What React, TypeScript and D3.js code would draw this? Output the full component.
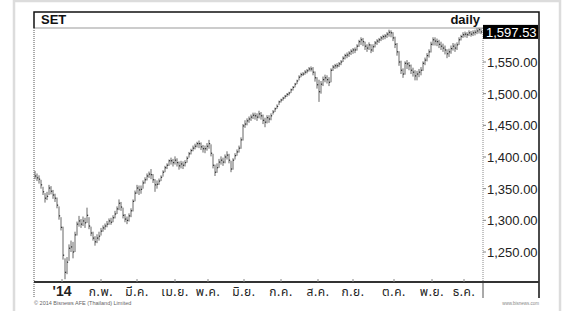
import React, { useEffect, useRef } from "react";
import * as d3 from "d3";

// daily bars: [high, low, close]
const bars: [number, number, number][] = [
  [1378, 1365, 1370], [1374, 1362, 1367], [1371, 1358, 1365], [1364, 1350, 1356],
  [1353, 1340, 1345], [1343, 1328, 1335], [1345, 1332, 1338], [1356, 1340, 1351],
  [1354, 1341, 1346], [1348, 1334, 1340], [1342, 1329, 1335], [1336, 1319, 1324],
  [1322, 1301, 1307], [1305, 1284, 1289], [1290, 1238, 1245], [1240, 1207, 1218],
  [1242, 1215, 1234], [1262, 1236, 1256], [1268, 1250, 1258], [1266, 1240, 1250],
  [1282, 1250, 1277], [1298, 1276, 1294], [1307, 1290, 1299], [1302, 1288, 1294],
  [1306, 1291, 1299], [1304, 1288, 1296], [1320, 1296, 1308], [1305, 1286, 1291],
  [1290, 1275, 1280], [1282, 1268, 1272], [1275, 1260, 1266], [1278, 1264, 1272],
  [1282, 1268, 1275], [1288, 1276, 1283], [1292, 1282, 1288], [1295, 1285, 1291],
  [1299, 1289, 1294], [1303, 1293, 1299], [1304, 1293, 1297], [1308, 1297, 1304],
  [1315, 1303, 1310], [1322, 1310, 1318], [1333, 1316, 1327], [1329, 1315, 1321],
  [1320, 1303, 1308], [1310, 1297, 1302], [1306, 1294, 1300], [1311, 1298, 1307],
  [1319, 1305, 1315], [1333, 1314, 1330], [1347, 1330, 1343], [1356, 1342, 1351],
  [1355, 1340, 1348], [1355, 1342, 1349], [1363, 1350, 1359], [1368, 1358, 1364],
  [1374, 1363, 1370], [1377, 1367, 1373], [1381, 1365, 1372], [1373, 1359, 1364],
  [1365, 1345, 1356], [1363, 1350, 1357], [1366, 1356, 1362], [1371, 1362, 1368],
  [1379, 1369, 1376], [1386, 1376, 1383], [1390, 1381, 1387], [1396, 1386, 1394],
  [1399, 1388, 1394], [1397, 1385, 1391], [1401, 1388, 1395], [1398, 1385, 1391],
  [1393, 1380, 1386], [1394, 1382, 1389], [1393, 1381, 1387], [1395, 1385, 1391],
  [1401, 1391, 1398], [1408, 1399, 1405], [1413, 1404, 1410], [1418, 1409, 1414],
  [1421, 1412, 1417], [1424, 1415, 1421], [1426, 1414, 1421], [1423, 1411, 1416],
  [1419, 1407, 1413], [1418, 1406, 1413], [1422, 1410, 1417], [1427, 1413, 1421],
  [1420, 1401, 1406], [1405, 1382, 1387], [1388, 1370, 1376], [1390, 1375, 1383],
  [1397, 1383, 1392], [1401, 1388, 1395], [1399, 1386, 1392], [1404, 1390, 1400],
  [1409, 1396, 1403], [1405, 1390, 1395], [1394, 1376, 1381], [1398, 1380, 1395],
  [1406, 1396, 1402], [1412, 1402, 1408], [1418, 1407, 1414], [1431, 1413, 1427],
  [1452, 1426, 1449], [1458, 1446, 1452], [1461, 1450, 1457], [1464, 1454, 1460],
  [1467, 1457, 1463], [1470, 1460, 1466], [1470, 1459, 1465], [1469, 1457, 1463],
  [1473, 1461, 1468], [1471, 1459, 1465], [1467, 1452, 1458], [1462, 1447, 1455],
  [1466, 1453, 1462], [1466, 1454, 1460], [1469, 1458, 1465], [1474, 1467, 1471],
  [1478, 1471, 1476], [1483, 1476, 1480], [1489, 1482, 1487], [1492, 1486, 1490],
  [1495, 1489, 1493], [1498, 1492, 1496], [1501, 1495, 1499], [1503, 1497, 1501],
  [1508, 1501, 1506], [1512, 1505, 1510], [1517, 1510, 1515], [1522, 1515, 1520],
  [1529, 1521, 1526], [1533, 1526, 1530], [1534, 1528, 1531], [1537, 1530, 1534],
  [1539, 1532, 1536], [1542, 1535, 1539], [1543, 1535, 1539], [1542, 1529, 1534],
  [1535, 1519, 1525], [1526, 1508, 1514], [1522, 1487, 1503], [1520, 1500, 1515],
  [1527, 1512, 1522], [1530, 1518, 1525], [1529, 1516, 1522], [1526, 1512, 1518],
  [1540, 1518, 1537], [1545, 1536, 1542], [1547, 1539, 1544], [1548, 1540, 1544],
  [1550, 1542, 1547], [1553, 1545, 1550], [1559, 1550, 1556], [1563, 1554, 1560],
  [1565, 1556, 1561], [1567, 1558, 1564], [1570, 1561, 1567], [1572, 1563, 1569],
  [1573, 1564, 1569], [1578, 1568, 1575], [1585, 1574, 1582], [1589, 1577, 1585],
  [1588, 1575, 1582], [1582, 1569, 1575], [1578, 1566, 1572], [1581, 1569, 1577],
  [1578, 1564, 1569], [1578, 1566, 1574], [1583, 1573, 1580], [1586, 1577, 1583],
  [1588, 1580, 1585], [1591, 1583, 1588], [1593, 1585, 1590], [1594, 1586, 1591],
  [1597, 1588, 1594], [1601, 1590, 1597], [1600, 1589, 1596], [1597, 1583, 1588],
  [1590, 1572, 1578], [1580, 1560, 1566], [1567, 1544, 1550], [1552, 1531, 1537],
  [1540, 1525, 1531], [1551, 1530, 1548], [1553, 1539, 1547], [1550, 1537, 1544],
  [1546, 1531, 1537], [1541, 1527, 1534], [1537, 1521, 1528], [1536, 1521, 1531],
  [1539, 1526, 1534], [1542, 1529, 1537], [1551, 1536, 1548], [1557, 1545, 1553],
  [1564, 1551, 1560], [1570, 1557, 1566], [1582, 1565, 1578], [1589, 1576, 1585],
  [1589, 1576, 1583], [1587, 1575, 1582], [1585, 1572, 1578], [1582, 1569, 1575],
  [1579, 1566, 1572], [1576, 1562, 1569], [1570, 1556, 1563], [1571, 1558, 1566],
  [1576, 1563, 1571], [1580, 1568, 1575], [1579, 1566, 1572], [1581, 1569, 1577],
  [1589, 1577, 1585], [1593, 1584, 1590], [1597, 1588, 1593], [1598, 1589, 1594],
  [1597, 1588, 1593], [1600, 1591, 1596], [1599, 1590, 1594], [1600, 1591, 1596],
  [1601, 1592, 1597], [1603, 1594, 1599], [1604, 1595, 1601], [1603, 1594, 1597.53],
];

const monthLabels = ["'14", "ก.พ.", "มี.ค.", "เม.ย.", "พ.ค.", "มิ.ย.", "ก.ค.", "ส.ค.", "ก.ย.", "ต.ค.", "พ.ย.", "ธ.ค."];
// bar index where each month label sits
const monthAt = [13.5, 33, 51, 70, 86.5, 104.5, 123, 141.5, 159, 179.5, 198.5, 214.5];
const priceTicks = [1250, 1300, 1350, 1400, 1450, 1500, 1550];
const lastClose = 1597.53;

const App = () => {
  const ref = useRef<SVGSVGElement>(null);

  useEffect(() => {
    const svg = d3.select(ref.current);
    svg.selectAll("*").remove();

    const left = 34, right = 539, top = 12, head = 28, axisY = 282, bottom = 298;
    const plotRight = 483;
    const font = "'Liberation Sans', Arial, sans-serif";
    const thai = "Tahoma, 'Noto Sans Thai', 'DejaVu Sans', 'Liberation Sans', sans-serif";

    const x = d3.scaleLinear().domain([-0.5, bars.length]).range([left, plotRight]);
    const y = d3.scaleLinear().domain([1250, 1550]).range([252, 62]);

    // outer panel
    svg.append("rect")
      .attr("x", 14).attr("y", 1).attr("width", 546).attr("height", 330)
      .attr("fill", "#fff").attr("stroke", "#dcdcdc").attr("stroke-width", 2.5);

    // header
    svg.append("text").attr("x", 41).attr("y", 24)
      .attr("font-family", font).attr("font-size", 13).attr("font-weight", "bold")
      .attr("fill", "#111").text("SET");
    svg.append("text").attr("x", 480).attr("y", 24).attr("text-anchor", "end")
      .attr("font-family", font).attr("font-size", 13).attr("font-weight", "bold")
      .attr("fill", "#111").text("daily");
    svg.append("line").attr("x1", left).attr("x2", right).attr("y1", head).attr("y2", head)
      .attr("stroke", "#bbb").attr("stroke-width", 1.5);

    // frame
    svg.append("path")
      .attr("d", `M${left},${head} V${top} H${right} V${bottom}`)
      .attr("fill", "none").attr("stroke", "#111").attr("stroke-width", 1.5);
    svg.append("line").attr("x1", left).attr("x2", left).attr("y1", head).attr("y2", bottom)
      .attr("stroke", "#555").attr("stroke-width", 1).attr("stroke-dasharray", "1,1");
    svg.append("line").attr("x1", plotRight).attr("x2", plotRight).attr("y1", head).attr("y2", axisY)
      .attr("stroke", "#888").attr("stroke-width", 1).attr("stroke-dasharray", "1,1");
    svg.append("line").attr("x1", plotRight).attr("x2", plotRight).attr("y1", axisY).attr("y2", bottom)
      .attr("stroke", "#555").attr("stroke-width", 1);
    svg.append("line").attr("x1", left).attr("x2", right).attr("y1", axisY).attr("y2", axisY)
      .attr("stroke", "#333").attr("stroke-width", 2);

    // price axis
    const yAxis = svg.append("g");
    priceTicks.forEach(t => {
      yAxis.append("line").attr("x1", plotRight).attr("x2", plotRight + 3)
        .attr("y1", y(t)).attr("y2", y(t)).attr("stroke", "#888");
      yAxis.append("text").attr("x", 487).attr("y", y(t) + 5)
        .attr("font-family", font).attr("font-size", 13).attr("fill", "#222")
        .text(d3.format(",.2f")(t));
    });

    // month axis
    const xAxis = svg.append("g");
    monthLabels.forEach((m, i) => {
      const px = x(monthAt[i]);
      xAxis.append("line").attr("x1", px).attr("x2", px).attr("y1", axisY - 3).attr("y2", axisY)
        .attr("stroke", "#888");
      xAxis.append("text").attr("x", px).attr("y", 296).attr("text-anchor", "middle")
        .attr("font-family", i === 0 ? font : thai)
        .attr("font-size", i === 0 ? 14 : 12)
        .attr("font-weight", i === 0 ? "bold" : "normal")
        .attr("letter-spacing", i === 0 ? 0 : 0.6)
        .attr("fill", "#222").text(m);
    });

    // bars
    const g = svg.append("g");
    g.selectAll("line.hl").data(bars).join("line").attr("class", "hl")
      .attr("x1", (d, i) => x(i)).attr("x2", (d, i) => x(i))
      .attr("y1", d => y(d[0])).attr("y2", d => y(d[1]))
      .attr("stroke", "#555").attr("stroke-width", 0.9);
    g.selectAll("line.cl").data(bars).join("line").attr("class", "cl")
      .attr("x1", (d, i) => x(i)).attr("x2", (d, i) => x(i) + 1.2)
      .attr("y1", d => y(d[2])).attr("y2", d => y(d[2]))
      .attr("stroke", "#111").attr("stroke-width", 1);

    // last price tag
    const ly = y(lastClose);
    svg.append("rect").attr("x", plotRight).attr("y", ly - 7).attr("width", 55).attr("height", 14)
      .attr("fill", "#000");
    svg.append("text").attr("x", 486).attr("y", ly + 5)
      .attr("font-family", font).attr("font-size", 13).attr("fill", "#fff")
      .text(d3.format(",.2f")(lastClose));

    // footer
    svg.append("text").attr("x", left).attr("y", 305)
      .attr("font-family", font).attr("font-size", 5.5).attr("fill", "#666")
      .text("© 2014 Bisnews AFE (Thailand) Limited");
    svg.append("text").attr("x", right).attr("y", 305).attr("text-anchor", "end")
      .attr("font-family", font).attr("font-size", 4.5).attr("fill", "#888")
      .text("www.bisnews.com");
  }, []);

  return (
    <svg ref={ref} width={565} height={311}
      style={{ position: "absolute", left: 0, top: 0, background: "#fff" }} />
  );
};

export default App;
